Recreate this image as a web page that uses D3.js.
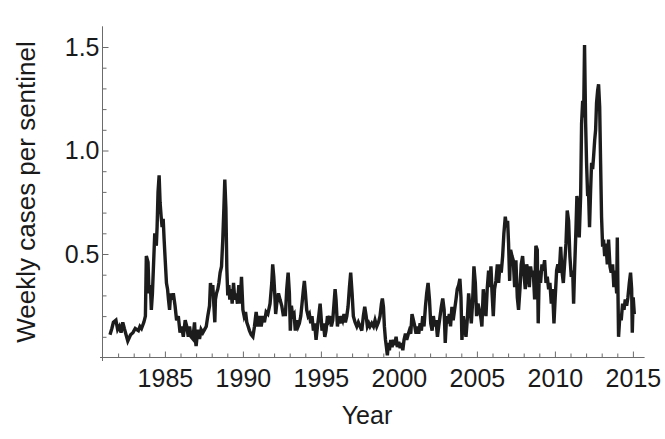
<!DOCTYPE html>
<html><head><meta charset="utf-8">
<script src="https://cdn.jsdelivr.net/npm/d3@7"></script>
<style>body{margin:0;background:#fff}svg{display:block}</style>
</head><body>
<svg id="chart" width="665" height="439"></svg>
<script>
// Time (decimal year) of each reading
const years = [
1981.48,1981.6,1981.7,1981.86,1981.97,1982.08,1982.19,1982.3,1982.4,1982.62,1982.8,1982.95,1983.1,1983.3,1983.4,1983.5,1983.65,1983.75,1983.81,1983.92,1983.98,
1984.07,1984.13,1984.2,1984.35,1984.45,1984.5,1984.56,1984.63,1984.69,1984.76,1984.82,1984.89,1984.95,1985.02,1985.1,1985.17,1985.23,1985.3,1985.37,1985.45,1985.54,1985.65,1985.75,1985.86,1985.97,
1986.08,1986.18,1986.3,1986.4,1986.5,1986.58,1986.68,1986.79,1986.9,1986.96,1987.0,1987.11,1987.22,1987.32,1987.43,1987.54,1987.65,1987.75,1987.86,1987.92,1987.99,
1988.07,1988.14,1988.2,1988.24,1988.31,1988.39,1988.46,1988.54,1988.63,1988.71,1988.78,1988.84,1988.91,1988.97,1989.03,1989.1,1989.16,1989.25,1989.31,1989.4,1989.48,1989.57,1989.65,1989.74,1989.82,1989.91,
1990.0,1990.08,1990.17,1990.25,1990.34,1990.42,1990.53,1990.64,1990.74,1990.85,1990.96,1991.06,1991.17,1991.28,1991.38,1991.49,1991.6,
1991.74,1991.85,1991.91,1991.98,1992.04,1992.1,1992.17,1992.28,1992.38,1992.49,1992.6,1992.66,1992.72,1992.81,1992.9,1992.98,1993.04,1993.11,1993.19,1993.28,1993.36,1993.45,1993.54,1993.62,1993.71,1993.79,1993.88,1993.94,
1994.01,1994.09,1994.18,1994.26,1994.35,1994.43,1994.52,1994.6,1994.69,1994.78,1994.86,1994.95,1995.01,1995.07,1995.16,1995.25,1995.33,1995.42,1995.5,1995.59,1995.67,1995.76,1995.84,1995.91,1995.97,
1996.06,1996.14,1996.23,1996.31,1996.4,1996.48,1996.57,1996.66,1996.74,1996.83,1996.91,1997.0,1997.08,1997.19,1997.3,1997.4,1997.51,
1997.62,1997.72,1997.81,1997.9,1997.98,1998.07,1998.15,1998.26,1998.37,1998.47,1998.58,1998.69,1998.79,1998.88,1998.94,1999.01,1999.07,1999.14,1999.2,1999.26,1999.33,1999.39,1999.48,1999.56,1999.65,1999.73,1999.82,1999.9,1999.99,
2000.08,2000.16,2000.25,2000.33,2000.42,2000.5,2000.59,2000.67,2000.76,2000.84,2000.93,2001.02,2001.1,2001.19,2001.27,2001.36,2001.44,2001.53,2001.61,2001.7,2001.78,2001.87,2001.96,
2002.04,2002.13,2002.21,2002.3,2002.38,2002.47,2002.55,2002.64,2002.72,2002.81,2002.9,
2002.97,2003.06,2003.14,2003.23,2003.31,2003.4,2003.48,2003.57,2003.66,2003.74,2003.83,2003.91,2003.98,2004.04,2004.13,2004.21,2004.3,2004.38,2004.47,2004.55,2004.64,2004.72,2004.81,2004.9,2004.98,
2005.07,2005.15,2005.24,2005.32,2005.41,2005.49,2005.58,2005.66,2005.75,2005.84,2005.9,2005.96,2006.05,2006.13,2006.22,2006.31,2006.39,2006.48,2006.56,2006.65,2006.73,2006.82,2006.9,2006.97,
2007.03,2007.1,2007.16,2007.25,2007.33,2007.42,2007.5,2007.59,2007.67,2007.76,2007.84,2007.93,2008.01,2008.1,2008.19,2008.27,2008.36,2008.44,2008.53,2008.61,2008.7,2008.78,2008.87,
2008.93,2009.0,2009.08,2009.17,2009.25,2009.34,2009.43,2009.51,2009.6,2009.68,2009.77,2009.85,2009.94,2010.02,2010.11,2010.19,2010.28,2010.37,2010.45,2010.54,2010.62,2010.71,2010.79,2010.88,2010.96,
2011.05,2011.14,2011.2,2011.26,2011.35,2011.41,2011.48,2011.56,2011.65,2011.71,2011.78,2011.84,2011.9,2011.97,2012.03,2012.1,2012.16,2012.22,2012.29,2012.35,2012.42,2012.48,2012.55,2012.61,2012.67,2012.74,2012.8,2012.87,2012.93,2012.99,
2013.06,2013.12,2013.19,2013.27,2013.36,2013.44,2013.53,2013.61,2013.7,2013.78,2013.87,2013.96,2014.0,2014.04,2014.08,2014.17,2014.25,2014.34,2014.43,2014.51,2014.6,2014.68,2014.77,2014.85,2014.92,2014.96,2015.02,2015.09
];
// Weekly cases per sentinel at each time
const cases = [
0.11,0.14,0.17,0.18,0.135,0.15,0.12,0.17,0.14,0.08,0.11,0.12,0.14,0.13,0.15,0.14,0.17,0.2,0.49,0.46,0.31,
0.35,0.23,0.31,0.60,0.54,0.63,0.80,0.88,0.75,0.68,0.63,0.67,0.57,0.47,0.36,0.33,0.28,0.23,0.31,0.28,0.31,0.25,0.18,0.20,0.12,
0.15,0.10,0.18,0.15,0.10,0.15,0.10,0.09,0.17,0.08,0.055,0.135,0.09,0.135,0.12,0.135,0.15,0.2,0.25,0.36,0.31,
0.35,0.25,0.17,0.28,0.31,0.33,0.36,0.41,0.44,0.57,0.72,0.86,0.72,0.43,0.30,0.35,0.28,0.33,0.26,0.36,0.28,0.31,0.26,0.35,0.26,0.39,
0.23,0.20,0.22,0.17,0.15,0.13,0.11,0.10,0.15,0.22,0.15,0.2,0.15,0.2,0.17,0.22,0.21,
0.26,0.36,0.45,0.39,0.31,0.21,0.26,0.31,0.28,0.25,0.2,0.23,0.2,0.33,0.41,0.31,0.13,0.25,0.2,0.21,0.13,0.18,0.15,0.165,0.2,0.26,0.33,0.37,
0.31,0.23,0.2,0.21,0.165,0.2,0.13,0.165,0.085,0.15,0.2,0.26,0.2,0.13,0.165,0.1,0.13,0.2,0.18,0.2,0.15,0.18,0.26,0.33,0.28,
0.15,0.2,0.165,0.2,0.18,0.21,0.17,0.2,0.245,0.34,0.41,0.31,0.2,0.17,0.15,0.17,0.15,
0.13,0.2,0.245,0.2,0.15,0.165,0.15,0.165,0.15,0.18,0.15,0.17,0.2,0.26,0.285,0.245,0.15,0.085,0.05,0.01,0.07,0.035,0.085,0.05,0.085,0.06,0.1,0.05,0.075,
0.045,0.07,0.035,0.085,0.115,0.085,0.11,0.13,0.115,0.21,0.18,0.15,0.115,0.15,0.115,0.165,0.13,0.2,0.15,0.245,0.31,0.36,0.28,
0.165,0.13,0.2,0.15,0.18,0.1,0.15,0.2,0.245,0.285,0.23,
0.07,0.2,0.165,0.21,0.15,0.245,0.18,0.23,0.28,0.33,0.35,0.38,0.29,0.085,0.2,0.15,0.1,0.18,0.31,0.245,0.165,0.26,0.44,0.36,0.2,
0.26,0.23,0.2,0.15,0.33,0.245,0.2,0.33,0.42,0.34,0.44,0.33,0.2,0.33,0.37,0.45,0.36,0.45,0.41,0.49,0.6,0.68,0.63,0.66,
0.55,0.37,0.52,0.49,0.47,0.34,0.47,0.29,0.23,0.33,0.45,0.49,0.41,0.33,0.45,0.42,0.34,0.44,0.39,0.42,0.28,0.54,0.52,
0.165,0.42,0.36,0.45,0.42,0.47,0.36,0.39,0.33,0.36,0.26,0.33,0.165,0.29,0.42,0.45,0.41,0.535,0.42,0.36,0.45,0.55,0.71,0.66,0.49,
0.39,0.42,0.26,0.42,0.62,0.78,0.73,0.58,0.78,1.13,1.24,1.16,1.51,1.13,0.94,0.78,0.79,0.63,0.81,0.94,0.91,0.97,1.05,1.1,1.23,1.29,1.32,1.21,0.94,0.68,
0.535,0.57,0.49,0.55,0.45,0.57,0.44,0.41,0.45,0.34,0.42,0.31,0.58,0.33,0.1,0.21,0.18,0.26,0.23,0.28,0.25,0.29,0.36,0.41,0.33,0.12,0.29,0.21
];
const xLabelTicks = [1985, 1990, 1995, 2000, 2005, 2010, 2015];
const yLabelTicks = [0.5, 1.0, 1.5];
const xTitle = "Year";
const yTitle = "Weekly cases per sentinel";

const svg = d3.select("#chart");
const FONT = "'Liberation Sans', Arial, Helvetica, sans-serif";
const x = d3.scaleLinear().domain([1981, 2015.75]).range([102.5, 644.6]);
const y = d3.scaleLinear().domain([0, 1.6]).range([357.5, 26.3]);
const axisColor = "#6b6b6b";

// minor ticks
const xMinor = d3.range(1982, 2016).filter(v => !xLabelTicks.includes(v));
const yMinor = d3.range(1, 16).map(v => v / 10).filter(v => !yLabelTicks.some(t => Math.abs(t - v) < 1e-9));

const gx = svg.append("g").attr("transform", `translate(0,${y(0)})`);
gx.call(d3.axisBottom(x).tickValues(xMinor).tickSize(-4).tickFormat(""));
gx.call(g => g.select(".domain").remove());
const gx2 = svg.append("g").attr("transform", `translate(0,${y(0)})`);
gx2.call(d3.axisBottom(x).tickValues(xLabelTicks).tickSize(-6).tickPadding(12).tickFormat(d3.format("d")));
gx2.select(".domain").remove();

const gy = svg.append("g").attr("transform", `translate(${x(1981)},0)`);
gy.call(d3.axisLeft(y).tickValues(yMinor).tickSize(-4).tickFormat(""));
gy.select(".domain").remove();
const gy2 = svg.append("g").attr("transform", `translate(${x(1981)},0)`);
gy2.call(d3.axisLeft(y).tickValues(yLabelTicks).tickSize(-6).tickPadding(3).tickFormat(d3.format(".1f")));
gy2.select(".domain").remove();

svg.selectAll(".tick line").attr("stroke", axisColor).attr("stroke-width", 1);
svg.selectAll(".tick text").attr("fill", "#1a1a1a").style("font-family", FONT).style("font-size", "25px");

// axis lines
svg.append("line").attr("x1", x(1981) - 2.5).attr("x2", x(2015.75)).attr("y1", y(0)).attr("y2", y(0))
  .attr("stroke", axisColor).attr("stroke-width", 1);
svg.append("line").attr("x1", x(1981)).attr("x2", x(1981)).attr("y1", y(0) + 3.5).attr("y2", y(1.6))
  .attr("stroke", axisColor).attr("stroke-width", 1);

// data line
const pts = years.map((t, i) => [t, cases[i]]);
svg.append("path").datum(pts)
  .attr("fill", "none").attr("stroke", "#1c1c1c").attr("stroke-width", 3.4).attr("stroke-linejoin", "miter").attr("stroke-miterlimit", 4)
  .attr("d", d3.line().x(d => x(d[0])).y(d => y(d[1])));

// titles
svg.append("text").attr("x", 367).attr("y", 424).attr("text-anchor", "middle")
  .style("font-family", FONT).style("font-size", "25px").attr("fill", "#1a1a1a").text(xTitle);
svg.append("text").attr("transform", "translate(35,192) rotate(-90)").attr("text-anchor", "middle")
  .style("font-family", FONT).style("font-size", "26px").attr("fill", "#1a1a1a").text(yTitle);
</script>
</body></html>
